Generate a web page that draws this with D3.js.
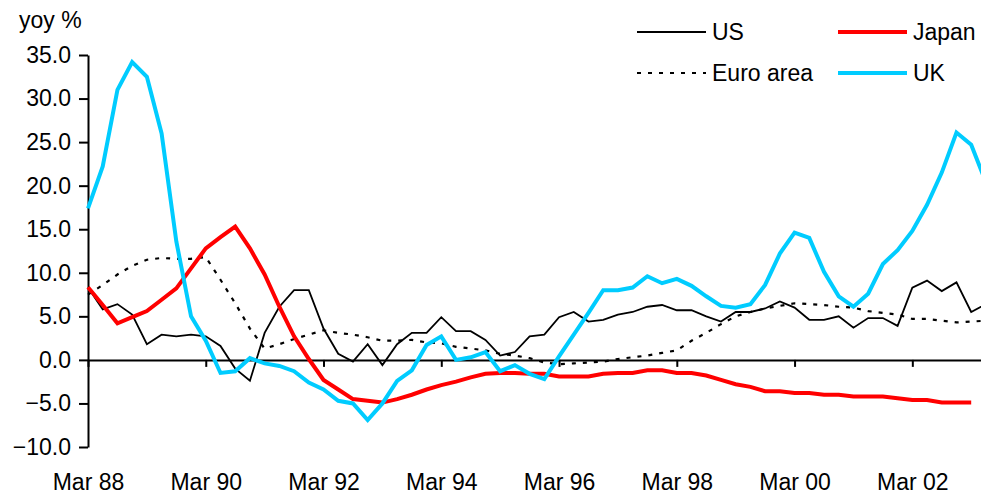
<!DOCTYPE html>
<html>
<head>
<meta charset="utf-8">
<script src="https://cdn.jsdelivr.net/npm/d3@7"></script>
<style>
  body { margin: 0; background: #fff; }
  svg { display: block; font-family: "Liberation Sans", Arial, sans-serif; }
  .axis text { font-size: 23px; fill: #000; }
  .axis path, .axis line { stroke: #000; stroke-width: 2px; }
</style>
</head>
<body>
<div id="chart"></div>
<script>
// quarterly yoy %, Mar 88 .. Jun 03
var years = [88,89,90,91,92,93,94,95,96,97,98,99,0,1,2,3];
var months = ["Mar","Jun","Sep","Dec"];
var tickLabels = ["Mar 88","Mar 90","Mar 92","Mar 94","Mar 96","Mar 98","Mar 00","Mar 02"];
var yTicks = [-10,-5,0,5,10,15,20,25,30,35];

var us = [8.3,5.8,6.4,5.2,1.8,2.9,2.7,2.9,2.7,1.6,-1.0,-2.4,3.1,6.1,8.0,8.0,
  3.6,0.7,-0.2,1.8,-0.6,1.8,3.1,3.1,4.9,3.3,3.3,2.3,0.5,0.9,2.7,
  2.9,4.9,5.5,4.4,4.6,5.2,5.5,6.1,6.3,5.7,5.7,5.0,4.4,5.5,5.5,
  5.9,6.7,6.0,4.6,4.6,5.0,3.7,4.8,4.8,3.9,8.3,9.1,7.9,8.9,5.5,6.4];
var japan = [8.35,6.3,4.2,4.9,5.6,6.9,8.2,10.5,12.8,14.1,15.3,12.8,9.8,6.1,2.7,0.1,
  -2.3,-3.4,-4.5,-4.7,-4.9,-4.5,-4.0,-3.4,-2.9,-2.5,-2.0,-1.6,-1.5,-1.5,-1.6,
  -1.6,-1.9,-1.9,-1.9,-1.6,-1.5,-1.5,-1.2,-1.2,-1.5,-1.5,-1.8,-2.3,-2.8,-3.1,
  -3.6,-3.6,-3.8,-3.8,-4.0,-4.0,-4.2,-4.2,-4.2,-4.4,-4.6,-4.6,-4.9,-4.9,-4.9,null];
var euro = [7.5,8.6,9.8,10.8,11.5,11.7,11.6,11.6,11.8,9.2,6.5,3.6,1.3,1.8,2.4,2.9,
  3.4,3.1,2.9,2.6,2.2,2.2,2.3,2.0,1.9,1.5,1.3,1.1,0.7,0.5,0.2,
  -0.3,-0.5,-0.4,-0.3,-0.2,0.1,0.3,0.5,0.8,1.1,2.2,3.1,4.1,5.0,5.5,
  5.9,6.2,6.5,6.4,6.3,6.1,6.0,5.6,5.4,5.2,4.7,4.7,4.5,4.3,4.4,4.5];
var uk = [17.4,22.2,31.0,34.2,32.5,26.0,13.6,5.0,2.2,-1.5,-1.3,0.2,-0.4,-0.7,-1.3,-2.6,
  -3.4,-4.7,-5.0,-6.9,-5.0,-2.4,-1.2,1.7,2.7,0.0,0.3,0.9,-1.3,-0.6,-1.6,
  -2.2,0.4,2.9,5.4,8.0,8.0,8.3,9.6,8.8,9.3,8.5,7.3,6.2,6.0,6.4,
  8.6,12.2,14.6,14.0,10.1,7.3,6.1,7.6,11.0,12.6,14.8,17.8,21.5,26.1,24.7,20.4];

var series = [
  { name: "Euro area", values: euro, color: "#000", width: 2.2, dash: "4,7" },
  { name: "US", values: us, color: "#000", width: 1.8, dash: null },
  { name: "Japan", values: japan, color: "#ff0000", width: 4, dash: null },
  { name: "UK", values: uk, color: "#00ccff", width: 4, dash: null }
];

var quarters = [];
years.forEach(function (y) {
  months.forEach(function (m) {
    quarters.push(m + " " + (y < 10 ? "0" + y : y));
  });
});
quarters = quarters.slice(0, us.length);

var width = 981,
  height = 495,
  x0 = 88,
  step = 14.72,
  svg = d3.select("#chart").append("svg")
    .attr("width", width)
    .attr("height", height),
  x = d3.scalePoint()
    .domain(quarters)
    .range([x0, x0 + step * (quarters.length - 1)]),
  y = d3.scaleLinear()
    .domain([-10, 35])
    .range([447, 55]);

// y axis
svg.append("g")
  .attr("class", "axis")
  .attr("transform", "translate(" + x0 + ",0)")
  .call(d3.axisLeft(y)
    .tickValues(yTicks)
    .tickFormat(d3.format(".1f"))
    .tickSize(9)
    .tickSizeOuter(0)
    .tickPadding(8));

// x axis on the zero line, labels pushed down to the bottom
var xAxis = svg.append("g")
  .attr("class", "axis")
  .attr("transform", "translate(0," + y(0) + ")")
  .call(d3.axisBottom(x)
    .tickValues(tickLabels)
    .tickSize(7)
    .tickSizeOuter(0));
xAxis.selectAll("text")
  .attr("y", 490 - y(0))
  .attr("dy", 0);

var line = d3.line()
  .defined(function (d) { return d != null; })
  .x(function (d, i) { return x(quarters[i]); })
  .y(function (d) { return y(d); });

svg.selectAll(".series")
  .data(series)
  .enter()
  .append("path")
  .attr("class", "series")
  .attr("d", function (d) { return line(d.values); })
  .attr("fill", "none")
  .attr("stroke", function (d) { return d.color; })
  .attr("stroke-width", function (d) { return d.width; })
  .attr("stroke-dasharray", function (d) { return d.dash; })
  .attr("stroke-linejoin", "miter");

// legend, two rows two columns
var legendPos = {
  "US": [637, 32], "Japan": [838, 32],
  "Euro area": [637, 73], "UK": [838, 73]
};
var leg = svg.selectAll(".legend")
  .data(series)
  .enter()
  .append("g")
  .attr("class", "legend")
  .attr("transform", function (d) {
    return "translate(" + legendPos[d.name][0] + "," + legendPos[d.name][1] + ")";
  });
leg.append("line")
  .attr("x1", 0).attr("x2", 69)
  .attr("stroke", function (d) { return d.color; })
  .attr("stroke-width", function (d) { return d.width; })
  .attr("stroke-dasharray", function (d) { return d.dash; });
leg.append("text")
  .attr("x", 75)
  .attr("y", 8)
  .attr("font-size", "23px")
  .text(function (d) { return d.name; });

svg.append("text")
  .attr("x", 19)
  .attr("y", 28)
  .attr("font-size", "23px")
  .text("yoy %");
</script>
</body>
</html>
